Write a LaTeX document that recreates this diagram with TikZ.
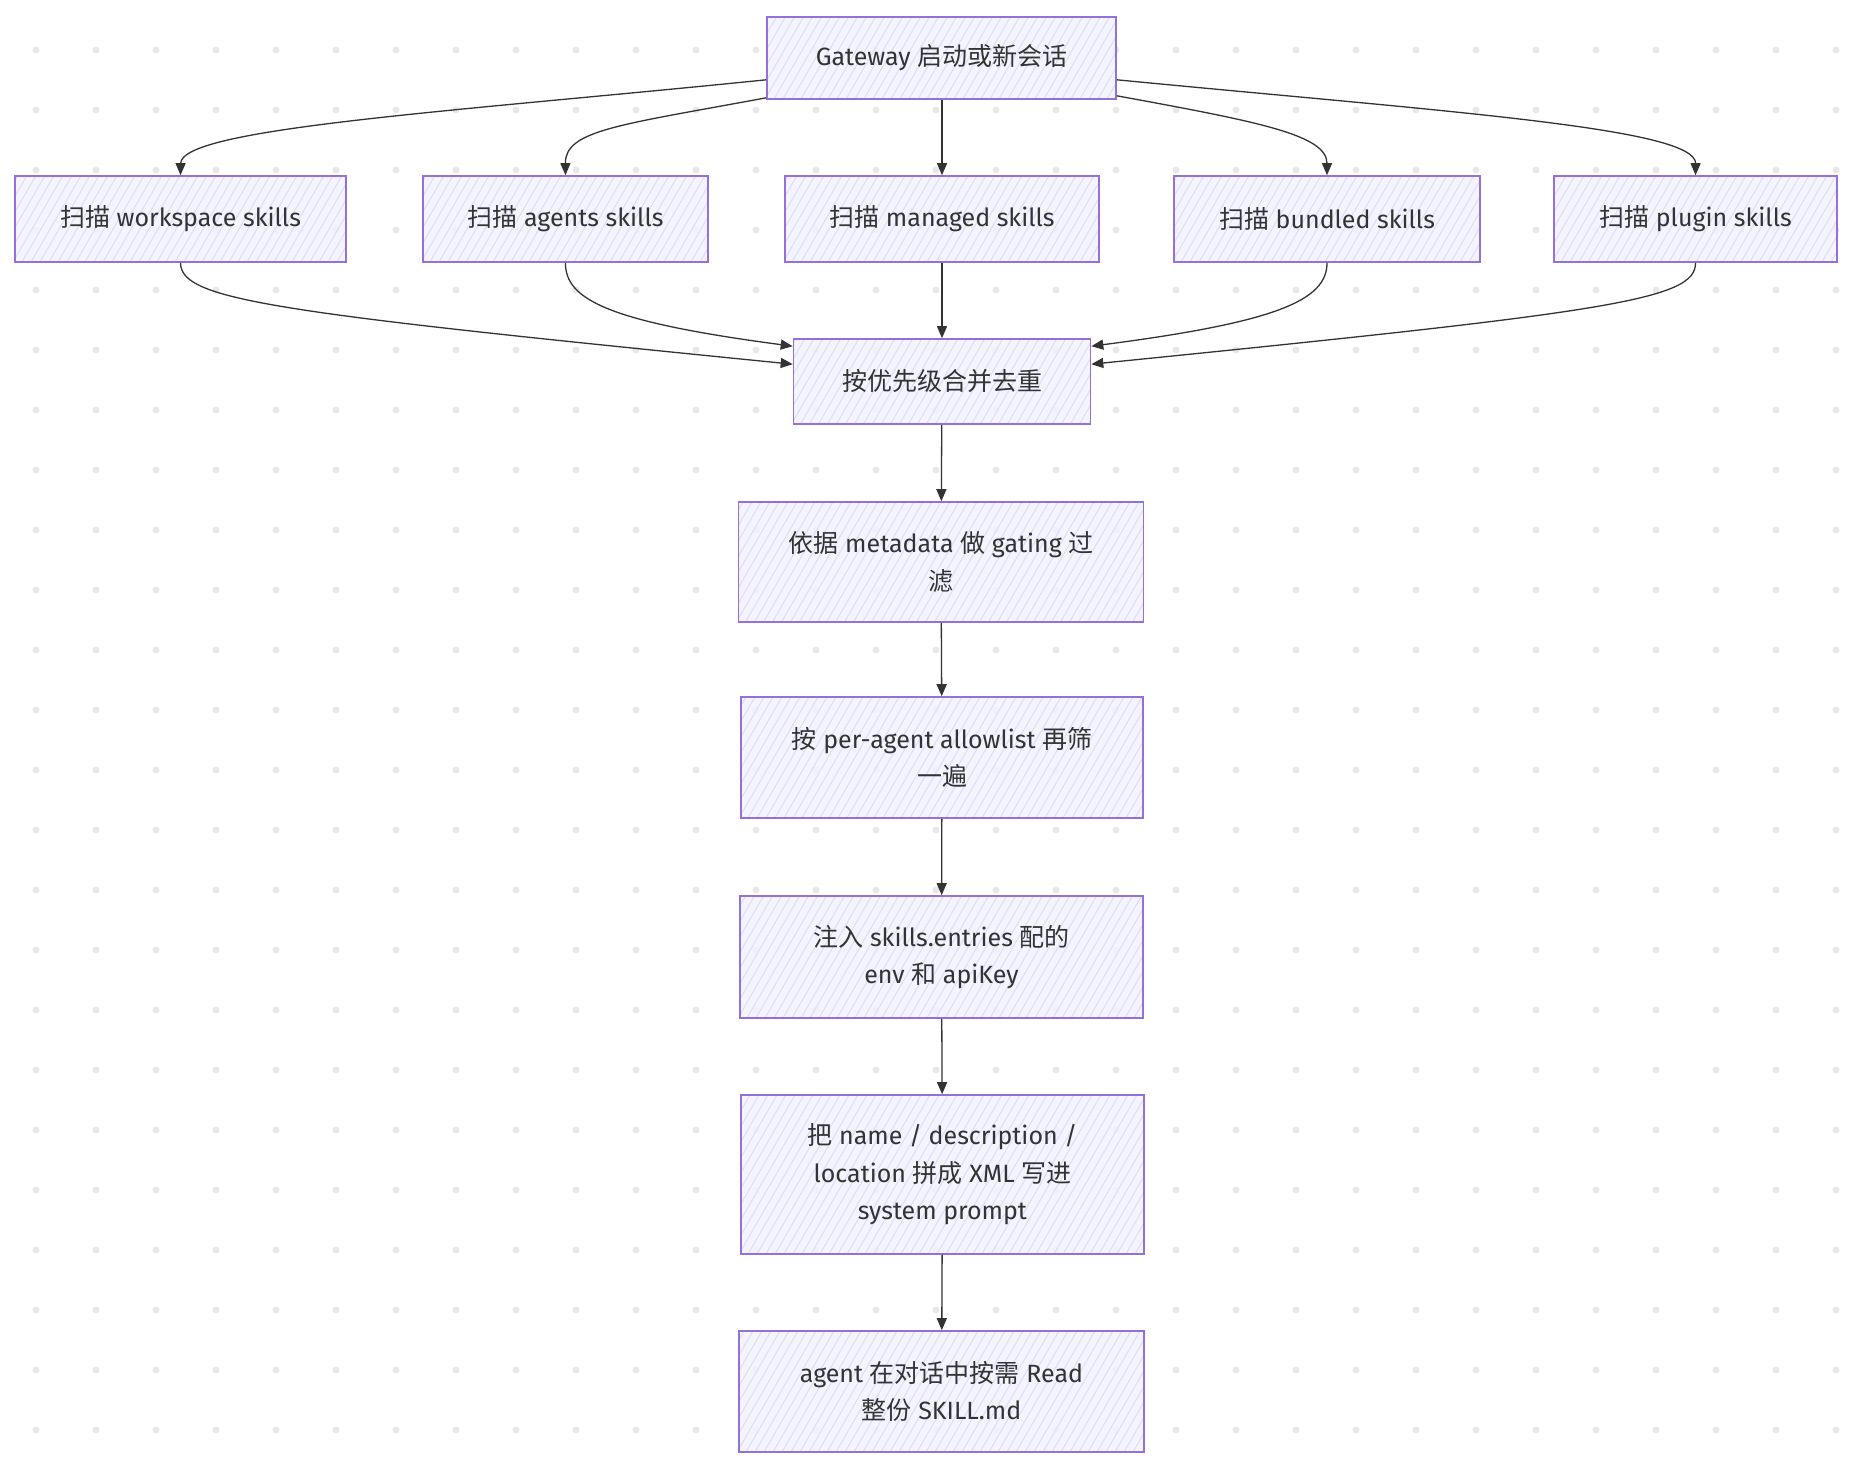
\documentclass[tikz,border=0pt]{standalone}
\usepackage{fontspec}
\setmainfont{Fira Sans}
\newfontfamily\zhfont{Noto Sans CJK SC}
\newcommand{\zh}[1]{{\zhfont #1}}
\usetikzlibrary{arrows.meta}
\definecolor{mmpurple}{HTML}{9370DB}
\definecolor{mmfill}{HTML}{F2F2FF}
\definecolor{hatchcol}{HTML}{DEDCFA}
\definecolor{txt}{HTML}{333333}
\definecolor{dotcol}{HTML}{E8E8E8}
\definecolor{edgecol}{HTML}{333333}
\tikzset{
  box/.style={draw=mmpurple, line width=1.6pt, fill=mmfill, fill opacity=0.85, text opacity=1,
    text=txt, inner sep=0pt, align=center,
    font=\fontsize{25pt}{37.5pt}\selectfont,
    path picture={
      \foreach \k in {-110,-101,...,440}{
        \draw[hatchcol, line width=1pt, draw opacity=1] ([xshift=\k pt]path picture bounding box.south west) -- ++(100pt,173pt);
      }}},
  edge/.style={draw=edgecol, line width=1.3pt, -{Triangle[length=12pt,width=10pt]}}
}
\begin{document}
\begin{tikzpicture}[x=1pt,y=-1pt]
\useasboundingbox (0,0) rectangle (1856,1472);
% dotted background
\foreach \i in {0,...,30}{
  \foreach \j in {0,...,23}{
    \fill[dotcol] (36+60*\i,50+60*\j) circle (3.5pt);
  }
}
% nodes
\node[box, minimum width=349pt, minimum height=82pt] (gw) at (941.5,58) {Gateway \zh{启动或新会话}};
\node[box, minimum width=331pt, minimum height=86pt] (ws) at (180.5,219) {\zh{扫描} workspace skills};
\node[box, minimum width=285pt, minimum height=86pt] (ag) at (565.5,219) {\zh{扫描} agents skills};
\node[box, minimum width=314pt, minimum height=86pt] (mg) at (942,219) {\zh{扫描} managed skills};
\node[box, minimum width=306pt, minimum height=86pt] (bd) at (1327,219) {\zh{扫描} bundled skills};
\node[box, minimum width=283pt, minimum height=86pt] (pl) at (1695.5,219) {\zh{扫描} plugin skills};
\node[box, minimum width=297pt, minimum height=85pt] (mr) at (942,381.5) {\zh{按优先级合并去重}};
\node[box, minimum width=405pt, minimum height=120pt] (gt) at (941,562) {\zh{依据} metadata \zh{做} gating \zh{过}\\\zh{滤}};
\node[box, minimum width=402pt, minimum height=121pt] (al) at (942,757.5) {\zh{按} per-agent allowlist \zh{再筛}\\\zh{一遍}};
\node[box, minimum width=403pt, minimum height=122pt] (in) at (941.5,957) {\zh{注入} skills.entries \zh{配的}\\env \zh{和} apiKey};
\node[box, minimum width=403pt, minimum height=159pt] (nm) at (942.5,1174.5) {\zh{把} name / description /\\location \zh{拼成} XML \zh{写进}\\system prompt};
\node[box, minimum width=405pt, minimum height=121pt] (rd) at (941.5,1391.5) {agent \zh{在对话中按需} Read\\\zh{整份} SKILL.md};
% edges from gateway
\draw[edge] ([yshift=20pt]gw.south west) .. controls (450,112) and (181,128) .. (ws.north);
\draw[edge] ([yshift=2pt]gw.south west) .. controls (620,125) and (565,130) .. (ag.north);
\draw[edge] (gw.south -| mg.north) -- (mg.north);
\draw[edge] ([yshift=4pt]gw.south east) .. controls (1260,122) and (1327,135) .. (bd.north);
\draw[edge] ([yshift=20pt]gw.south east) .. controls (1450,112) and (1696,128) .. (pl.north);
% edges into merge
\draw[edge] (ws.south) .. controls (181,300) and (270,312) .. ([yshift=-26pt]mr.north west);
\draw[edge] (ag.south) .. controls (565,300) and (610,322) .. ([yshift=-8pt]mr.north west);
\draw[edge] (mg.south) -- (mr.north);
\draw[edge] (bd.south) .. controls (1327,300) and (1278,322) .. ([yshift=-8pt]mr.north east);
\draw[edge] (pl.south) .. controls (1696,300) and (1610,312) .. ([yshift=-26pt]mr.north east);
% chain
\draw[edge] (mr) -- (gt);
\draw[edge] (gt) -- (al);
\draw[edge] (al) -- (in);
\draw[edge] (in) -- (nm);
\draw[edge] (nm) -- (rd);
\end{tikzpicture}
\end{document}
